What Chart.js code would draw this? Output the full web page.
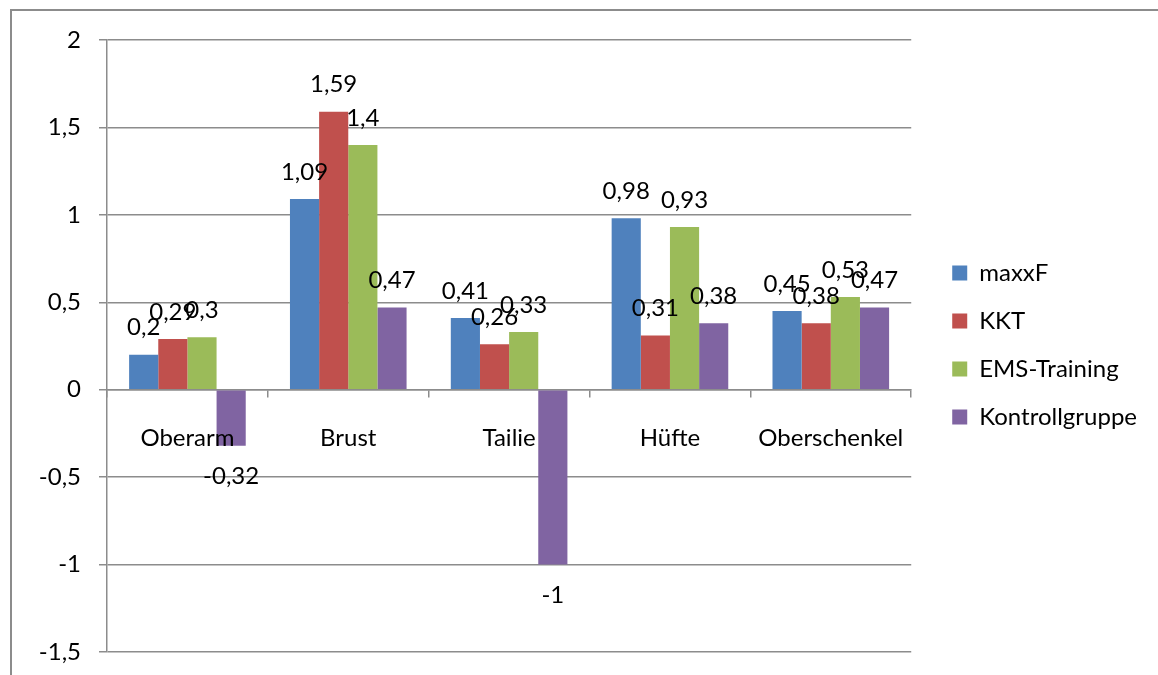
<!DOCTYPE html>
<html>
<head>
<meta charset="utf-8">
<script src="https://cdn.jsdelivr.net/npm/chart.js@4.4.1/dist/chart.umd.min.js"></script>
<style>
  html, body { margin: 0; padding: 0; background: #fff; }
  #wrap { position: relative; width: 1158px; height: 675px; }
  #frame {
    position: absolute; left: 10px; top: 9px; right: -20px; bottom: -20px;
    border-top: 2px solid #8c8c8c; border-left: 2px solid #8c8c8c;
    pointer-events: none;
  }
  canvas { position: absolute; left: 0; top: 0; }
</style>
</head>
<body>
<div id="wrap">
  <canvas id="chart" width="1158" height="675"></canvas>
  <div id="frame"></div>
</div>
<script>
// ================= DATA =================
const categories = ["Oberarm", "Brust", "Tailie", "Hüfte", "Oberschenkel"];
const seriesNames = ["maxxF", "KKT", "EMS-Training", "Kontrollgruppe"];
const maxxF = [0.2, 1.09, 0.41, 0.98, 0.45];
const kkt = [0.29, 1.59, 0.26, 0.31, 0.38];
const emsTraining = [0.3, 1.4, 0.33, 0.93, 0.53];
const kontrollgruppe = [-0.32, 0.47, -1, 0.38, 0.47];
const colors = ["#4F81BD", "#C0504D", "#9BBB59", "#8064A2"];

const FONT = "Lato";
const FONT_SIZE = 24;
const gridColor = "#8c8c8c";

// ================= DATA LABELS =================
const valueLabels = {
    id: "valueLabels",
    afterDatasetsDraw(chart) {
        const ctx = chart.ctx;
        ctx.save();
        ctx.font = `${FONT_SIZE}px ${FONT}`;
        ctx.fillStyle = "#000";
        ctx.textAlign = "center";
        ctx.textBaseline = "middle";
        chart.data.datasets.forEach((ds, i) => {
            chart.getDatasetMeta(i).data.forEach((bar, j) => {
                const v = ds.data[j];
                const y = v >= 0 ? bar.y - 27 : bar.y + 31;
                ctx.fillText(String(v).replace(".", ","), bar.x, y);
            });
        });
        ctx.restore();
    }
};

// push the legend a bit away from the plot, like Excel does
const legendGap = {
    id: "legendGap",
    afterLayout(chart) {
        const lg = chart.legend;
        lg.left += 17;
        lg.right += 17;
        lg.top -= 1;
        lg.bottom -= 1;
    }
};

const allSeries = [maxxF, kkt, emsTraining, kontrollgruppe];

new Chart(document.getElementById("chart"), {
    type: "bar",
    data: {
        labels: categories,
        datasets: allSeries.map((d, i) => ({
            label: seriesNames[i],
            data: d,
            backgroundColor: colors[i],
            borderWidth: 0,
            categoryPercentage: 0.725,
            barPercentage: 1
        }))
    },
    options: {
        responsive: false,
        animation: false,
        layout: { padding: { top: 40, bottom: 23, left: 0, right: 28 } },
        plugins: {
            legend: {
                position: "right",
                labels: {
                    font: { family: FONT, size: FONT_SIZE },
                    color: "#000",
                    boxWidth: 15,
                    boxHeight: 15,
                    padding: 24
                }
            },
            tooltip: { enabled: false }
        },
        scales: {
            x: {
                position: { y: 0 },
                grid: {
                    offset: true,
                    drawOnChartArea: false,
                    drawTicks: true,
                    tickLength: 7,
                    color: gridColor,
                    lineWidth: 1.5
                },
                border: { display: true, color: gridColor, width: 1.5 },
                ticks: {
                    z: 1, // category names sit on top of the bars
                    font: { family: FONT, size: FONT_SIZE },
                    color: "#000",
                    padding: 27
                }
            },
            y: {
                min: -1.5,
                max: 2,
                afterFit(scale) {
                    scale.width = 107;
                    scale.paddingTop = 0;
                    scale.paddingBottom = 0;
                },
                ticks: {
                    stepSize: 0.5,
                    font: { family: FONT, size: FONT_SIZE },
                    color: "#000",
                    padding: 18,
                    callback: v => String(v).replace(".", ",")
                },
                grid: { color: gridColor, lineWidth: 1.5, tickLength: 8 },
                border: { display: true, color: gridColor, width: 1.5 }
            }
        }
    },
    plugins: [valueLabels, legendGap]
});
</script>
</body>
</html>
